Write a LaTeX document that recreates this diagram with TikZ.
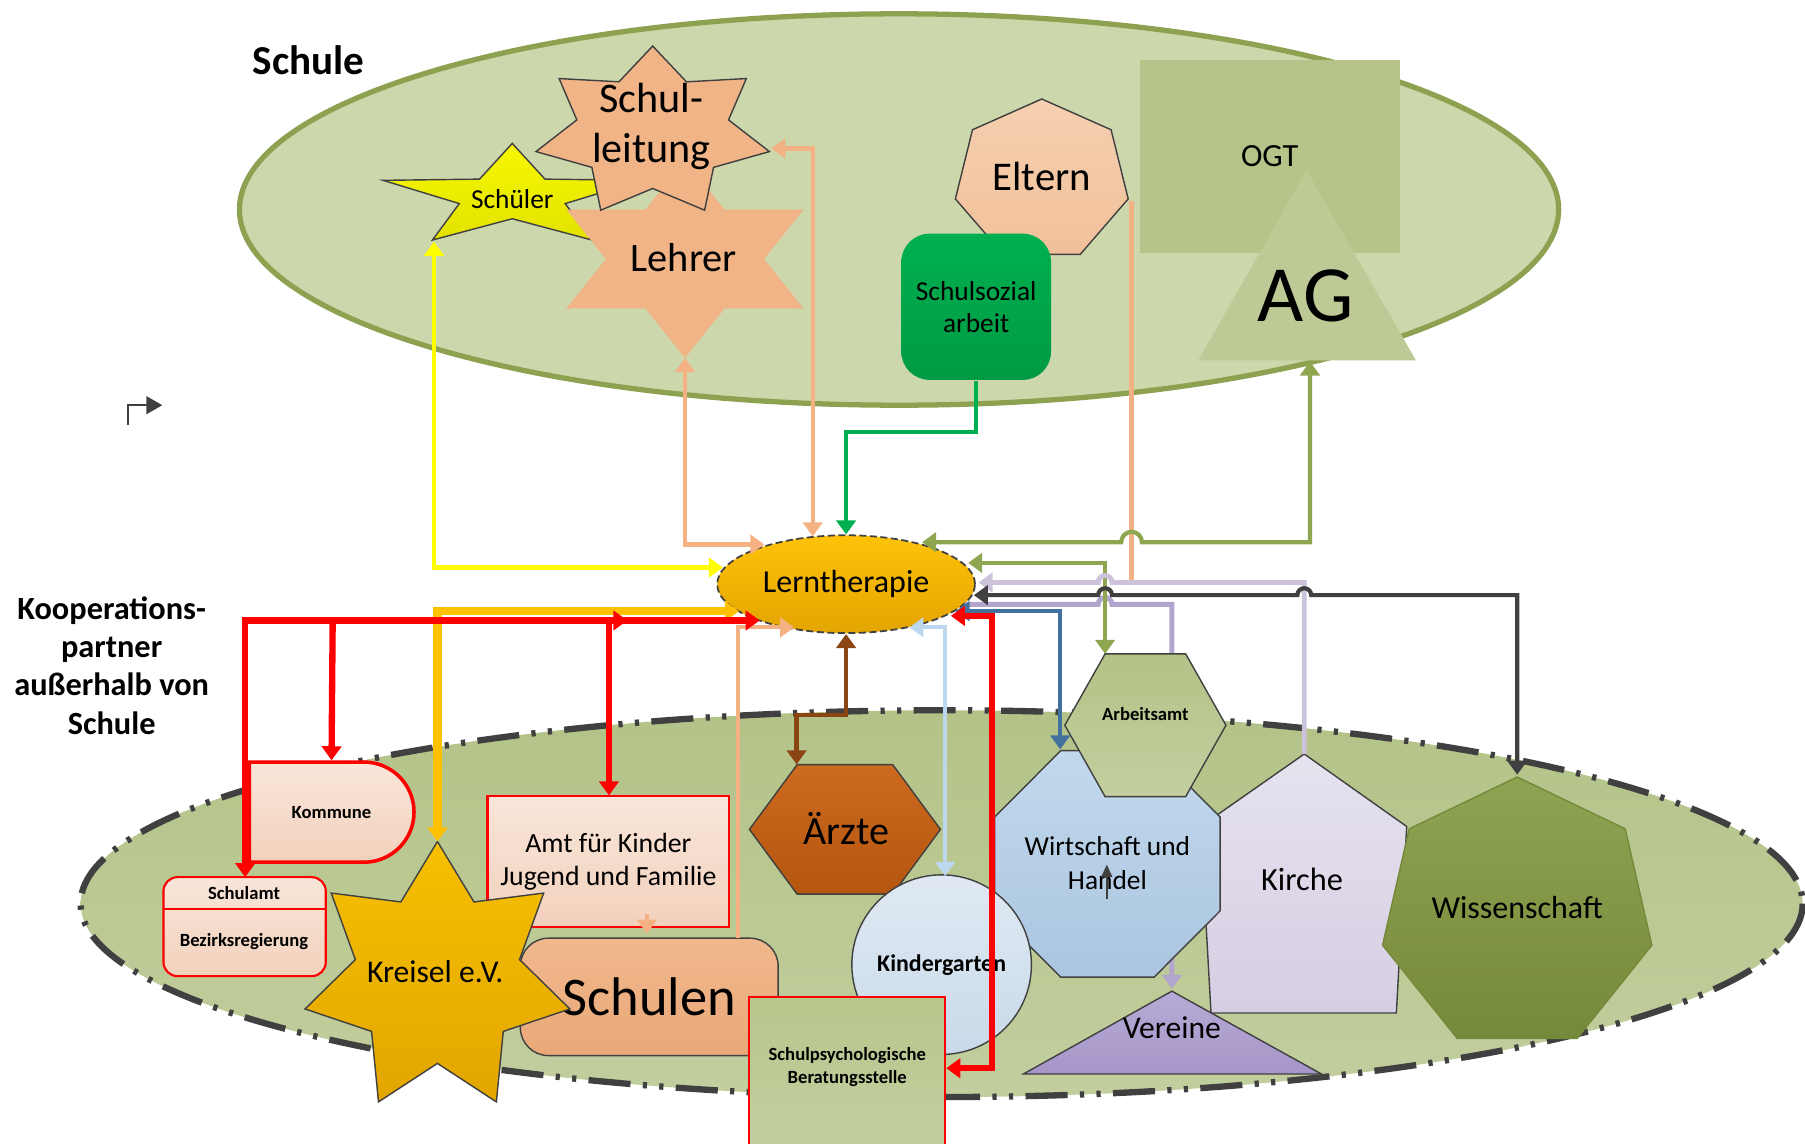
\documentclass[tikz,border=0pt]{standalone}
\usepackage{fontspec}
\setmainfont{Carlito}
\usetikzlibrary{shapes.geometric,shapes.misc,arrows.meta}

% colours
\definecolor{schoolfill}{HTML}{CDD7AC}
\definecolor{schoolline}{HTML}{8EA150}
\definecolor{partnertop}{HTML}{B3C388}
\definecolor{partnerbot}{HTML}{C2CE9E}
\definecolor{linegray}{HTML}{404040}
\definecolor{peach}{HTML}{F0B487}
\definecolor{yellowtop}{HTML}{F8F800}
\definecolor{yellowbot}{HTML}{E2E200}
\definecolor{elttop}{HTML}{F6D0B0}
\definecolor{eltbot}{HTML}{F1C09A}
\definecolor{soztop}{HTML}{00B050}
\definecolor{sozbot}{HTML}{009A44}
\definecolor{ogtfill}{HTML}{B6C48A}
\definecolor{agfill}{HTML}{BECA96}
\definecolor{lttop}{HTML}{FFC20A}
\definecolor{ltbot}{HTML}{E3A500}
\definecolor{komtop}{HTML}{F9E6DA}
\definecolor{kombot}{HTML}{F2D1BC}
\definecolor{goldtop}{HTML}{F7C000}
\definecolor{goldbot}{HTML}{E2A600}
\definecolor{schulentop}{HTML}{F0B88C}
\definecolor{schulenbot}{HTML}{EAA878}
\definecolor{arztop}{HTML}{CC6A1F}
\definecolor{arzbot}{HTML}{B5560F}
\definecolor{kgtop}{HTML}{E0E9F3}
\definecolor{kgbot}{HTML}{C9DAEA}
\definecolor{witop}{HTML}{C2D8EC}
\definecolor{wibot}{HTML}{AAC6E0}
\definecolor{aatop}{HTML}{B3C287}
\definecolor{aabot}{HTML}{C3CF9F}
\definecolor{kitop}{HTML}{E6E2EE}
\definecolor{kibot}{HTML}{D6CEE3}
\definecolor{vetop}{HTML}{B7AAD6}
\definecolor{vebot}{HTML}{A696C8}
\definecolor{wstop}{HTML}{8FA452}
\definecolor{wsbot}{HTML}{75893A}
\definecolor{sptop}{HTML}{B8C58C}
\definecolor{spbot}{HTML}{C4CFA0}
\definecolor{lnyellow}{HTML}{FFFF00}
\definecolor{lnpeach}{HTML}{F4B183}
\definecolor{lngreen}{HTML}{00B050}
\definecolor{lnolive}{HTML}{8FA650}
\definecolor{lnlav}{HTML}{CCC2DA}
\definecolor{lnlavd}{HTML}{B2A6CF}
\definecolor{lnblue}{HTML}{41719C}
\definecolor{lnred}{HTML}{FF0000}
\definecolor{lnlblue}{HTML}{BDD7EE}
\definecolor{lnbrown}{HTML}{8B4513}
\definecolor{lnorange}{HTML}{FFC000}

% one pixel of the sketch
\newcommand{\upx}{0.11512mm}
% polygon or star: style, centre, x radius, y radius, corners, start angle, inner ratio
\newcommand{\polyshape}[7]{%
  \path[#1, shift={(#2)}] ({#3*cos(#6)},{#4*sin(#6)})
    \foreach \k [evaluate=\k as \vf using {(mod(\k,2)==0 ? 1 : #7)},
                 evaluate=\k as \vx using {#3*\vf*cos(#6+\k*360/#5)},
                 evaluate=\k as \vy using {#4*\vf*sin(#6+\k*360/#5)}] in {1,...,#5}
      { -- (\vx,\vy) } -- cycle;}

\tikzset{
  link/.style={line width=1.2pt},
  thinline/.style={draw=linegray, line width=0.4pt},
  tinytext/.style={font=\bfseries\fontsize{5.3}{6.5}\selectfont, align=center},
}

\begin{document}
\begin{tikzpicture}[x=\upx, y=-\upx, >={Triangle[length=4pt,width=5.5pt]}]
\useasboundingbox (0,0) rectangle (1568,993);

% areas
\path[draw=schoolline, line width=1.5pt, fill=schoolfill] (781,182) ellipse [x radius=573, y radius=170];
\path[draw=linegray, line width=1.8pt, dash pattern=on 12pt off 3.5pt on 1.2pt off 3.5pt on 1.2pt off 3.5pt,
  top color=partnertop, bottom color=partnerbot] (818,785) ellipse [x radius=748, y radius=168];

\node[font=\bfseries\fontsize{11.7}{14}\selectfont] (schule) at (268,52) {Schule};
\node[font=\bfseries\fontsize{9.2}{10.9}\selectfont, align=center] (koop) at (97,578) {Kooperations-\\partner\\außerhalb von\\Schule};

\coordinate (mark-a) at (111,369);
\coordinate (mark-b) at (141,352);
\draw[linegray, line width=0.6pt, -{Triangle[length=4.5pt,width=5pt]}] (mark-a) |- (mark-b);

% school
\polyshape{thinline, top color=yellowtop, bottom color=yellowbot}{445,171}{118}{46.4}{10}{270}{0.41}
\polyshape{fill=peach}{595,225}{119}{86}{12}{270}{0.577}
\polyshape{thinline, fill=peach}{567,115}{104}{75}{14}{270}{0.65}
\node[font=\fontsize{7.8}{9}\selectfont] (schueler) at (445,173) {Schüler};
\node[font=\fontsize{11.5}{13}\selectfont] (lehrer) at (594,224) {Lehrer};
\node[font=\fontsize{12}{14.4}\selectfont, align=center] (leitung) at (566,110) {Schul-\\leitung};

\polyshape{thinline, top color=elttop, bottom color=eltbot}{905,157}{77}{71}{7}{270}{1}
\node[font=\fontsize{11.6}{13}\selectfont] (eltern) at (905,153) {Eltern};
\node[rectangle, rounded corners=8pt, minimum width=130*\upx, minimum height=127*\upx, top color=soztop, bottom color=sozbot,
  align=center, font=\fontsize{7.8}{9.2}\selectfont] (sozial) at (848,266.5) {Schulsozial\\arbeit};

\node[rectangle, minimum width=226*\upx, minimum height=168*\upx, fill=ogtfill, font=\fontsize{9.2}{11}\selectfont] (ogt) at (1103,136) {OGT};
\path[fill=agfill] (1135,148) -- (1230,313) -- (1041,313) -- cycle;
\node[font=\fontsize{22.7}{26}\selectfont] (ag) at (1134,257) {AG};

% Lerntherapie
\node[ellipse, draw=linegray, line width=0.5pt, dash pattern=on 2pt off 1pt, top color=lttop, bottom color=ltbot,
  minimum width=224*\upx, minimum height=85*\upx, inner sep=0pt, font=\fontsize{9.1}{11}\selectfont] (lt) at (735,507.5) {Lerntherapie};

% contact points
\coordinate (sch-ll) at (377,210);
\coordinate (lt-yel) at (628,493);
\coordinate (leh-b) at (595,311);
\coordinate (lt-pl) at (664,473);
\coordinate (sl-r) at (670,129);
\coordinate (lt-ps) at (706,466);
\coordinate (gr-k) at (848,375);
\coordinate (elt-r) at (983,175);
\coordinate (elt-e) at (983,506);
\coordinate (ag-b) at (1138,314);
\coordinate (lt-ag) at (801,471);
\coordinate (aa-t) at (960,568);
\coordinate (lt-aa) at (841,489);
\coordinate (ki-t) at (1133,655);
\coordinate (lt-lav) at (850,506);
\coordinate (lt-lvd) at (838,525);
\coordinate (ver-t) at (1018,859);
\coordinate (lt-bk) at (846,517);
\coordinate (wis-t) at (1318,673);
\coordinate (lt-bl) at (830,531);
\coordinate (wi-tl) at (921,651);
\coordinate (lt-rd) at (826,535);
\coordinate (sp-r) at (822,928);
\coordinate (lt-lb) at (790,545);
\coordinate (kg-t) at (821,761);
\coordinate (ae-t) at (692,664);
\coordinate (sn-t) at (641,815);
\coordinate (lt-sn) at (690,545);
\coordinate (amt-s) at (562,794);
\coordinate (sn-a) at (562,811);
\coordinate (kr-t) at (380,731);
\coordinate (lt-or) at (642,531);
\coordinate (sa-t) at (213,762);
\coordinate (lt-rl) at (660,539);
\coordinate (rj1) at (289,539);
\coordinate (rj2) at (529,539);
\coordinate (rj3) at (545,539);
\coordinate (amt-t) at (529,691);

% line to Vereine runs behind the shapes
\draw[line width=1.4pt, lnlavd, ->] (lt-lvd) -- (954,525) arc[start angle=180, end angle=360, radius=6] -- (1018,525) -- (ver-t);

% partners
\node[rectangle, draw=lnred, line width=0.6pt, top color=komtop, bottom color=kombot, minimum width=210*\upx, minimum height=114*\upx,
  align=center, font=\fontsize{7.9}{9.2}\selectfont] (amt) at (528.5,748.5) {Amt für Kinder\\Jugend und Familie};
\node[rectangle, rounded corners=8pt, draw=linegray, line width=0.4pt, top color=schulentop, bottom color=schulenbot,
  minimum width=224*\upx, minimum height=102*\upx, font=\fontsize{15.5}{18}\selectfont] (schulen) at (564,866) {Schulen};
\polyshape{thinline, top color=goldtop, bottom color=goldbot}{380,850}{118}{119}{14}{270}{0.62}
\node[font=\fontsize{9}{11}\selectfont] (kreisel) at (378,844) {Kreisel e.V.};
\node[rectangle, rounded corners=4pt, draw=lnred, line width=0.6pt, top color=komtop, bottom color=kombot,
  minimum width=141*\upx, minimum height=86*\upx] (schulamt) at (212.5,805) {};
\draw[lnred, line width=0.6pt] (142,790) -- (283,790);
\node[tinytext] (schulamt-t) at (212,776) {Schulamt};
\node[tinytext] (bezirk) at (212,818) {Bezirksregierung};
\node[rounded rectangle, rounded rectangle left arc=none, draw=lnred, line width=1pt, top color=komtop, bottom color=kombot,
  minimum width=143*\upx, minimum height=87*\upx, inner sep=0pt, tinytext] (kommune) at (288,705.5) {Kommune};

\polyshape{thinline, top color=arztop, bottom color=arzbot}{734,720.5}{83}{65}{6}{0}{1}
\node[font=\fontsize{11.4}{13}\selectfont] (aerzte) at (735,720) {Ärzte};

\path[thinline, top color=kitop, bottom color=kibot] (1133,655) -- (1222,718) -- (1213,880) -- (1052,880) -- (1043,718) -- cycle;
\node[font=\fontsize{9.2}{11}\selectfont] (kirche) at (1131,764) {Kirche};
\polyshape{draw=wsbot, line width=0.4pt, top color=wstop, bottom color=wsbot}{1318,794.5}{120}{119.5}{7}{270}{1}
\node[font=\fontsize{9.1}{11}\selectfont] (wissen) at (1318,788) {Wissenschaft};
\polyshape{thinline, top color=witop, bottom color=wibot}{962,750.5}{106}{106.5}{8}{22.5}{1}
\node[align=center, font=\fontsize{7.8}{9.8}\selectfont] (wirtschaft) at (962,750) {Wirtschaft und\\Handel};
\polyshape{thinline, top color=aatop, bottom color=aabot}{995,630}{70}{71.6}{6}{0}{1}
\node[tinytext] (arbeitsamt) at (995,620) {Arbeitsamt};
\path[thinline, top color=vetop, bottom color=vebot] (1018,861) -- (1148,933) -- (889,933) -- cycle;
\node[font=\fontsize{9}{11}\selectfont] (vereine) at (1018,893) {Vereine};
\node[circle, thinline, top color=kgtop, bottom color=kgbot, minimum size=156*\upx, inner sep=0pt,
  font=\bfseries\fontsize{6.8}{8}\selectfont] (kg) at (818,838) {Kindergarten};
\path[draw=lnred, line width=0.6pt, top color=sptop, bottom color=spbot] (651,866) rectangle (821,1000);
\node[tinytext] (psych) at (736,927) {Schulpsychologische\\Beratungsstelle};

\coordinate (ha-a) at (961.5,781);
\coordinate (ha-b) at (961.5,751);
\draw[linegray, line width=0.6pt, -{Triangle[length=3.5pt,width=3pt]}] (ha-a) -- (ha-b);

% connectors
\draw[link, lnpeach] (elt-r) -- (elt-e);
\draw[link, lnyellow, <->] (sch-ll) |- (lt-yel);
\draw[link, lnpeach, <->] (leh-b) |- (lt-pl);
\draw[link, lnpeach, <->] (sl-r) -| (lt-ps);
\draw[link, lngreen, ->] (sozial.south) -- (gr-k) -| (lt.north);
\draw[link, lnolive, <->] (aa-t) |- (lt-aa);
\draw[link, lnolive, <->] (ag-b) -- (1138,471) -- (992,471) arc[start angle=0, end angle=-180, radius=9] -- (lt-ag);
\draw[line width=1.4pt, lnlav, ->] (ki-t) -- (1133,506) -- (966,506) arc[start angle=0, end angle=-180, radius=6] -- (lt-lav);
\draw[link, linegray, <->] (lt-bk) -- (954,517) arc[start angle=180, end angle=360, radius=6] -- (1127,517)
  arc[start angle=180, end angle=360, radius=6] -- (1318,517) -- (wis-t);
\draw[link, lnblue, <->] (lt-bl) -| (wi-tl);
\draw[line width=1.6pt, lnred, <->] (lt-rd) -- (862,535) |- (sp-r);
\draw[link, lnlblue, <->] (lt-lb) -| (kg-t);
\draw[link, lnbrown, <->] (lt.south) -- (735,621) -| (ae-t);
\draw[link, lnpeach, ->] (sn-t) |- (lt-sn);
\draw[link, lnpeach, ->] (amt-s) -- (sn-a);
\draw[line width=2.4pt, lnorange, <->] (kr-t) |- (lt-or);
\draw[line width=1.8pt, lnred, <->] (sa-t) |- (lt-rl);
\draw[line width=1.8pt, lnred, ->] (rj1) -- (kommune.north);
\draw[line width=1.8pt, lnred, ->] (rj2) -- (amt-t);
\draw[line width=1.8pt, lnred, ->] (rj2) -- (rj3);
\end{tikzpicture}
\end{document}
